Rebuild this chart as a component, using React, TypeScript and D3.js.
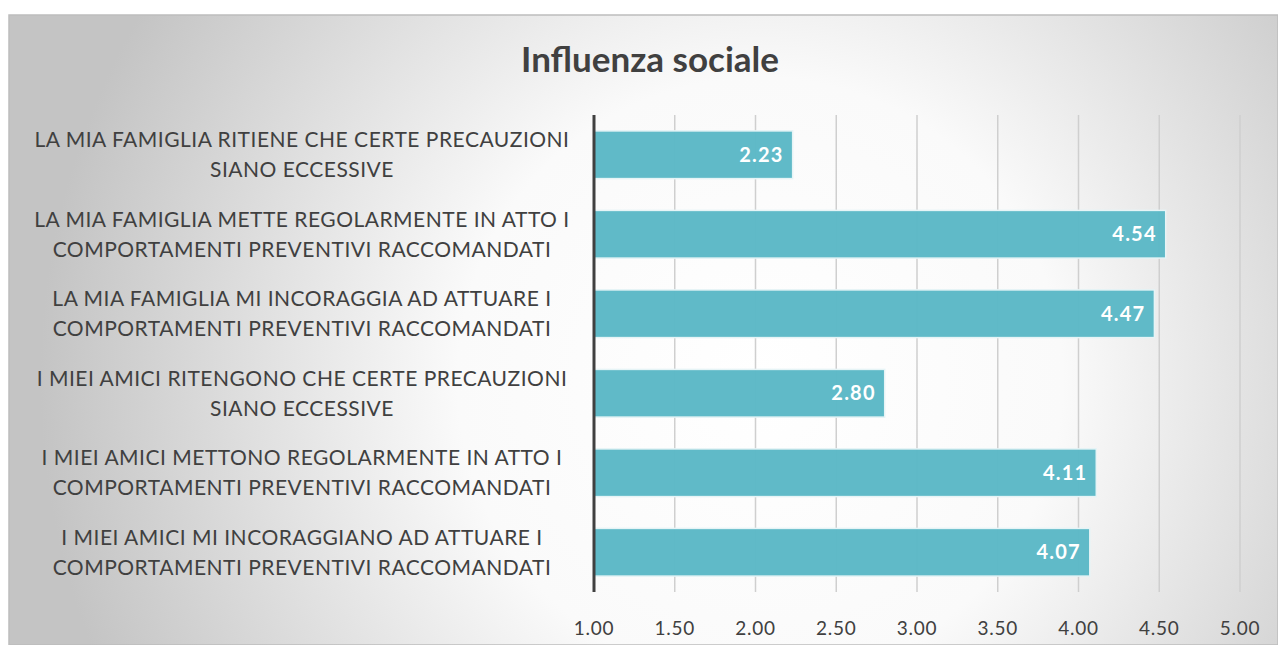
import React from 'react';
import * as d3 from 'd3';

const categories = [
  ['LA MIA FAMIGLIA RITIENE CHE CERTE PRECAUZIONI', 'SIANO ECCESSIVE'],
  ['LA MIA FAMIGLIA METTE REGOLARMENTE IN ATTO I', 'COMPORTAMENTI PREVENTIVI RACCOMANDATI'],
  ['LA MIA FAMIGLIA MI INCORAGGIA AD ATTUARE I', 'COMPORTAMENTI PREVENTIVI RACCOMANDATI'],
  ['I MIEI AMICI RITENGONO CHE CERTE PRECAUZIONI', 'SIANO ECCESSIVE'],
  ['I MIEI AMICI METTONO REGOLARMENTE IN ATTO I', 'COMPORTAMENTI PREVENTIVI RACCOMANDATI'],
  ['I MIEI AMICI MI INCORAGGIANO AD ATTUARE I', 'COMPORTAMENTI PREVENTIVI RACCOMANDATI'],
];
const values = [2.23, 4.54, 4.47, 2.8, 4.11, 4.07];
const ticks = [1, 1.5, 2, 2.5, 3, 3.5, 4, 4.5, 5];

const W = 1278;
const H = 645;
const font = 'Lato, "Open Sans", sans-serif';

export default function App() {
  const x = d3.scaleLinear().domain([1, 5]).range([594, 1240]);
  const y = d3
    .scaleBand<number>()
    .domain(d3.range(values.length))
    .range([115, 592])
    .paddingInner(0.4)
    .paddingOuter(0.2);

  return (
    <svg width={W} height={H} style={{ position: 'absolute', left: 0, top: 0 }}>
      <defs>
        <radialGradient id="bg" cx={760} cy={380} r={720} gradientUnits="userSpaceOnUse">
          <stop offset="0" stopColor="#ffffff" />
          <stop offset="0.42" stopColor="#fafafa" />
          <stop offset="1" stopColor="#c4c4c4" />
        </radialGradient>
      </defs>
      <rect x={9} y={15} width={W - 9} height={H - 15} fill="url(#bg)" stroke="#bdbdbd" strokeWidth={1.5} />
      <text
        x={650}
        y={72}
        textAnchor="middle"
        fontFamily={font}
        fontWeight="bold"
        fontSize={35}
        fill="#404040"
      >
        Influenza sociale
      </text>
      {/* gridlines */}
      {ticks.slice(1).map((t) => (
        <line key={t} x1={x(t)} x2={x(t)} y1={115} y2={592} stroke="#cfcfcf" strokeWidth={1.5} />
      ))}
      {/* bars */}
      {values.map((v, i) => (
        <g key={i}>
          <rect
            x={x(1)}
            y={y(i)}
            width={x(v) - x(1)}
            height={y.bandwidth()}
            fill="#5bb8c6"
            fillOpacity={0.97}
            stroke="#e6f4f6"
            strokeWidth={1.5}
          />
          <text
            x={x(v) - 9}
            y={y(i)! + y.bandwidth() / 2}
            dy="0.35em"
            textAnchor="end"
            fontFamily={font}
            fontWeight="bold"
            fontSize={20}
            letterSpacing={1.2}
            fill="#ffffff"
          >
            {v.toFixed(2)}
          </text>
        </g>
      ))}
      {/* axis line */}
      <line x1={x(1)} x2={x(1)} y1={115} y2={592} stroke="#404040" strokeWidth={3} />
      {/* category labels */}
      {categories.map((lines, i) => {
        const cy = y(i)! + y.bandwidth() / 2;
        return (
          <text
            key={i}
            x={302}
            textAnchor="middle"
            fontFamily={font}
            fontSize={21}
            letterSpacing={0.5}
            fill="#404040"
          >
            {lines.map((l, j) => (
              <tspan key={j} x={302} y={cy + (j - 0.5) * 30} dy="0.35em">
                {l}
              </tspan>
            ))}
          </text>
        );
      })}
      {/* tick labels */}
      {ticks.map((t) => (
        <text
          key={t}
          x={x(t)}
          y={628}
          dy="0.35em"
          textAnchor="middle"
          fontFamily={font}
          fontSize={19}
          letterSpacing={0.8}
          fill="#404040"
        >
          {t.toFixed(2)}
        </text>
      ))}
    </svg>
  );
}
